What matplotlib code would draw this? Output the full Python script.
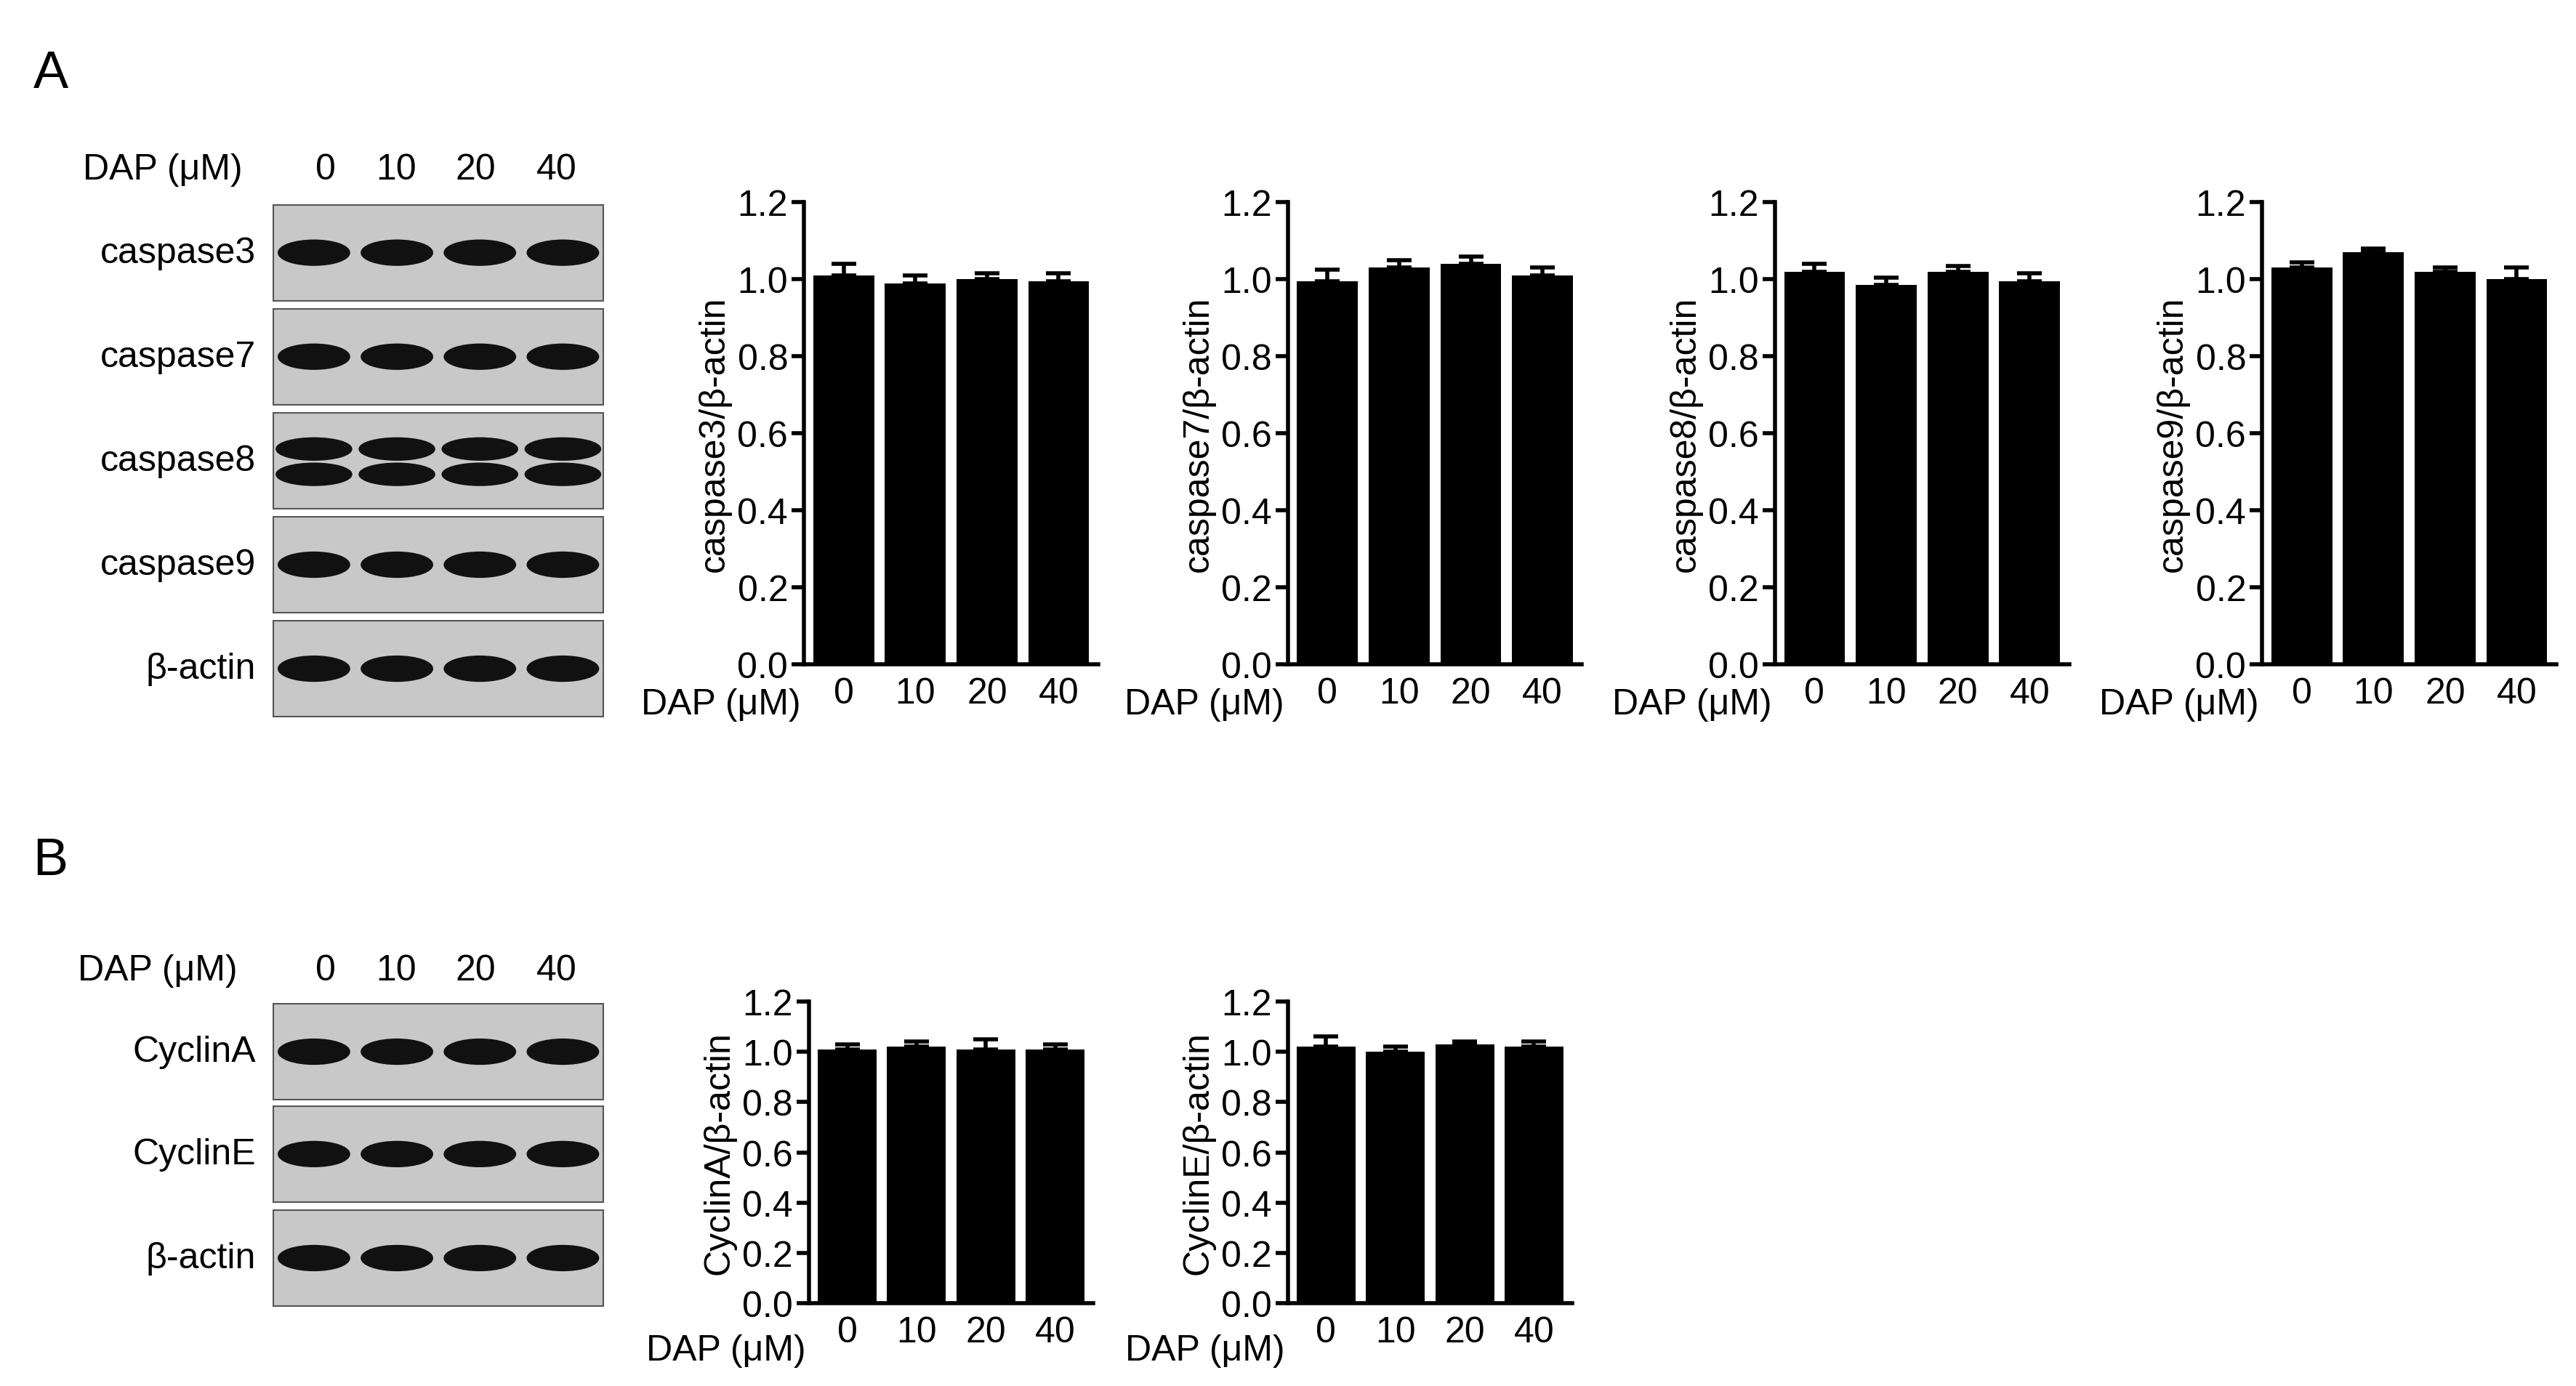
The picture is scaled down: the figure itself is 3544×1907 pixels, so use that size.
import matplotlib.pyplot as plt
from matplotlib.patches import Ellipse, Rectangle

plt.rcParams['font.family'] = ['Liberation Sans', 'DejaVu Sans']
plt.rcParams['font.size'] = 18

doses = ['0', '10', '20', '40']

casp3 = [1.01, 0.99, 1.00, 0.995]
casp3_err = [0.03, 0.02, 0.015, 0.02]
casp7 = [0.995, 1.03, 1.04, 1.01]
casp7_err = [0.03, 0.02, 0.02, 0.02]
casp8 = [1.02, 0.985, 1.02, 0.995]
casp8_err = [0.02, 0.02, 0.015, 0.02]
casp9 = [1.03, 1.07, 1.02, 1.00]
casp9_err = [0.015, 0.01, 0.01, 0.03]
cycA = [1.01, 1.02, 1.01, 1.01]
cycA_err = [0.02, 0.02, 0.04, 0.02]
cycE = [1.02, 1.00, 1.03, 1.02]
cycE_err = [0.04, 0.02, 0.01, 0.02]

blot_a = ['caspase3', 'caspase7', 'caspase8', 'caspase9', 'β-actin']
blot_b = ['CyclinA', 'CyclinE', 'β-actin']

W, H = 1560.0, 840.0
fig = plt.figure(figsize=(17.72, 9.54), dpi=200)


def ax_at(x0, y0, x1, y1):
    return fig.add_axes([x0 / W, 1 - y1 / H, (x1 - x0) / W, (y1 - y0) / H])


def bar_panel(x0, y0, x1, y1, vals, errs, ylabel, short=False):
    ax = ax_at(x0, y0, x1, y1)
    xs = range(len(vals))
    ax.bar(xs, vals, width=0.85, color='black')
    ax.errorbar(xs, vals, yerr=[[0] * len(errs), errs], fmt='none',
                ecolor='black', capsize=6, elinewidth=2, capthick=2)
    ax.set_ylim(0, 1.2)
    ax.set_xlim(-0.55, 3.55)
    ax.set_yticks([0, 0.2, 0.4, 0.6, 0.8, 1.0, 1.2])
    ax.set_yticklabels(['0.0', '0.2', '0.4', '0.6', '0.8', '1.0', '1.2'])
    ax.set_xticks(list(xs))
    ax.set_xticklabels(doses)
    for s in ['top', 'right']:
        ax.spines[s].set_visible(False)
    ax.spines['left'].set_linewidth(2)
    ax.spines['bottom'].set_linewidth(2)
    ax.tick_params(axis='y', width=2, length=6, pad=2)
    ax.tick_params(axis='x', length=0, pad=6)
    ax.set_ylabel(ylabel, labelpad=3)
    ax.text(-0.6, -0.1 if short else -0.05, 'DAP (μM)',
            transform=ax.get_xaxis_transform(), ha='right', va='top')
    return ax


def blot(x0, y0, x1, y1, double=False):
    ax = ax_at(x0, y0, x1, y1)
    ax.set_xlim(0, 4)
    ax.set_ylim(0, 1)
    ax.add_patch(Rectangle((0, 0), 4, 1, facecolor='#c8c8c8', edgecolor='#555555', lw=1.5))
    for i in range(4):
        if double:
            ax.add_patch(Ellipse((i + 0.5, 0.62), 0.9, 0.22, color='#111111'))
            ax.add_patch(Ellipse((i + 0.5, 0.36), 0.9, 0.22, color='#111111'))
        else:
            ax.add_patch(Ellipse((i + 0.5, 0.5), 0.85, 0.25, color='#111111'))
    ax.axis('off')


# Panel A
fig.text(20 / W, 1 - 45 / H, 'A', fontsize=26, va='center')
fig.text(50 / W, 1 - 103 / H, 'DAP (μM)', va='center')
for x, d in zip([197, 240, 288, 337], doses):
    fig.text(x / W, 1 - 103 / H, d, va='center', ha='center')
rows_a = [(124, 183), (187, 246), (250, 309), (313, 372), (376, 435)]
for (y0, y1), name in zip(rows_a, blot_a):
    blot(165, y0, 366, y1, double=(name == 'caspase8'))
    fig.text(155 / W, 1 - (y0 + y1) / 2 / H, name, ha='right', va='center')

bar_panel(487, 123, 665, 403, casp3, casp3_err, 'caspase3/β-actin')
bar_panel(780, 123, 958, 403, casp7, casp7_err, 'caspase7/β-actin')
bar_panel(1075, 123, 1253, 403, casp8, casp8_err, 'caspase8/β-actin')
bar_panel(1370, 123, 1548, 403, casp9, casp9_err, 'caspase9/β-actin')

# Panel B
fig.text(20 / W, 1 - 522 / H, 'B', fontsize=26, va='center')
fig.text(47 / W, 1 - 588 / H, 'DAP (μM)', va='center')
for x, d in zip([197, 240, 288, 337], doses):
    fig.text(x / W, 1 - 588 / H, d, va='center', ha='center')
rows_b = [(608, 667), (670, 729), (733, 792)]
for (y0, y1), name in zip(rows_b, blot_b):
    blot(165, y0, 366, y1)
    fig.text(155 / W, 1 - (y0 + y1) / 2 / H, name, ha='right', va='center')

bar_panel(490, 607, 662, 790, cycA, cycA_err, 'CyclinA/β-actin', short=True)
bar_panel(780, 607, 952, 790, cycE, cycE_err, 'CyclinE/β-actin', short=True)

fig.savefig('out.png', dpi=200, facecolor='white')
